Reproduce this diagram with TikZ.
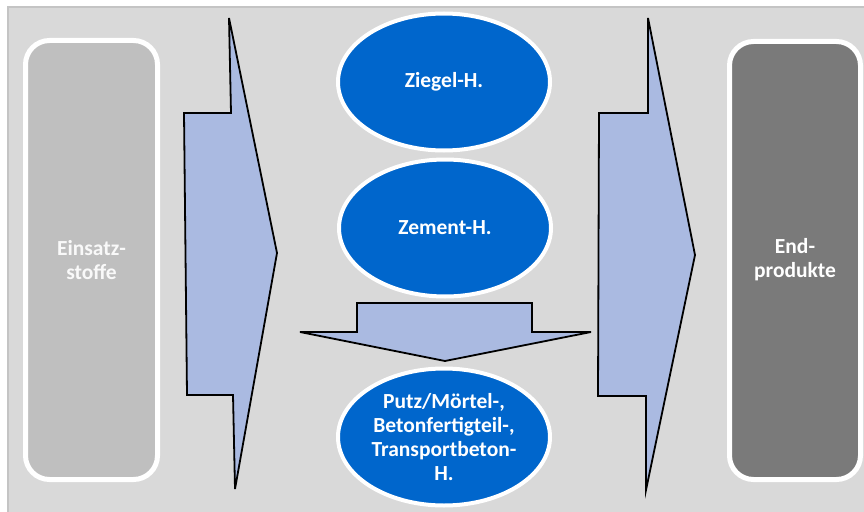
\documentclass[tikz,border=0pt]{standalone}
\usepackage{fontspec}
\setmainfont{Carlito}
\usetikzlibrary{shapes.geometric}
\definecolor{panelbg}{HTML}{D9D9D9}
\definecolor{panelline}{HTML}{C4C4C4}
\definecolor{inputgray}{HTML}{BFBFBF}
\definecolor{outputgray}{HTML}{7A7A7A}
\definecolor{flowblue}{HTML}{AABAE1}
\definecolor{plantblue}{HTML}{0066CC}
\tikzset{
  x=1pt, y=-1pt,
  label font/.style={font=\fontsize{21.5}{24}\selectfont\bfseries},
  stagebox/.style={draw=white, line width=5pt, rounded corners=24pt},
  plant/.style={ellipse, draw=white, line width=4pt, fill=plantblue,
    minimum width=212pt, minimum height=137pt, inner sep=0pt,
    text=white, align=center, label font},
  flow/.style={draw=black, line width=1.8pt, fill=flowblue, line join=miter},
}
\begin{document}
\begin{tikzpicture}
\useasboundingbox (0,0) rectangle (864,511);
% background panel
\fill[white] (0,0) rectangle (864,511);
\draw[panelline, line width=1.5pt, fill=panelbg] (8,7) rectangle (880,530);

% input and output columns
\draw[stagebox, fill=inputgray] (25.5,40.5) rectangle (157.5,479.5);
\node[label font, text=white!95!gray, align=center] (inputs) at (91.5,260) {Einsatz-\\stoffe};
\draw[stagebox, fill=outputgray] (729.5,41.5) rectangle (860.5,479.5);
\node[label font, text=white, align=center] (outputs) at (795,260) {End-\\produkte};

% block arrows
\draw[flow] (229,18) -- (277,253) -- (235,489) -- (233,395) -- (187,395) -- (184,113) -- (231,113) -- cycle;
\draw[flow] (648,18) -- (695,255) -- (646,490) -- (646,396) -- (598,396) -- (599,113) -- (648,113) -- cycle;
\draw[flow] (357,303) -- (532,303) -- (532,332) -- (591,332) -- (445,361) -- (300,332) -- (357,332) -- cycle;

% production stages
\node[plant] (ziegel) at (444,82) {Ziegel-H.};
\node[plant] (zement) at (445,228) {Zement-H.};
\node[plant] (beton) at (444,437) {Putz/Mörtel-,\\Betonfertigteil-,\\Transportbeton-\\H.};
\end{tikzpicture}
\end{document}
